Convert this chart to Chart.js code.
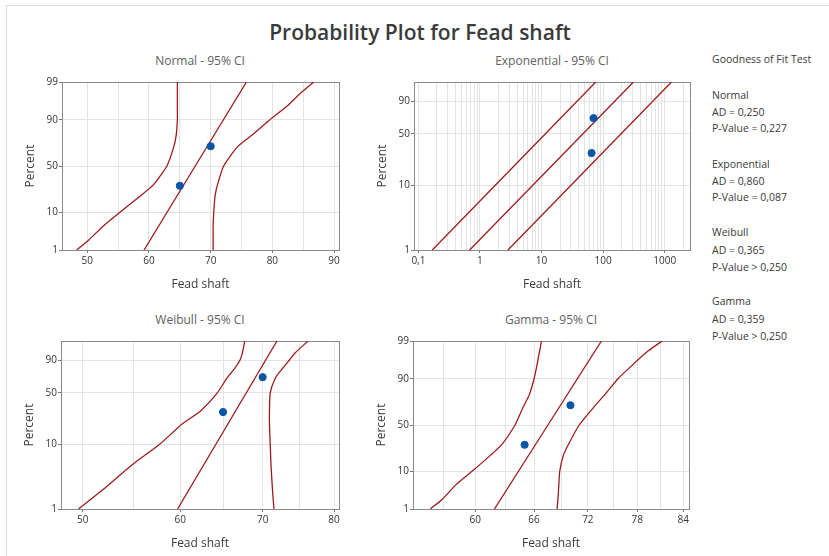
<!DOCTYPE html>
<html>
<head>
<meta charset="utf-8">
<script src="https://cdn.jsdelivr.net/npm/chart.js@4.4.0/dist/chart.umd.min.js"></script>
<style>
body { margin: 0; width: 829px; height: 556px; background: #fff; font-family: "Open Sans", sans-serif; position: relative; overflow: hidden; }
.frame { position: absolute; left: 6px; top: 5px; width: 830px; height: 560px; border-left: 1px solid #dcdcdc; border-top: 1px solid #dcdcdc; }
#title { position: absolute; left: 0; width: 840px; top: 18px; text-align: center; font-size: 21px; font-weight: 600; color: #3a3a3a; }
canvas { position: absolute; }
.ptitle { position: absolute; width: 280px; font-size: 12px; line-height: 16px; color: #606060; text-align: center; white-space: nowrap; }
.gof { position: absolute; left: 712px; font-size: 10.5px; line-height: 14px; color: #3a3a3a; white-space: nowrap; }
</style>
</head>
<body>
<div class="frame"></div>
<div id="title">Probability Plot for Fead shaft</div>
<div class="ptitle" style="left:60px;top:53px">Normal - 95% CI</div>
<div class="ptitle" style="left:412px;top:53px">Exponential - 95% CI</div>
<div class="ptitle" style="left:60px;top:312px">Weibull - 95% CI</div>
<div class="ptitle" style="left:411px;top:312px">Gamma - 95% CI</div>
<canvas id="normal" width="343" height="222" style="left:8px;top:72px"></canvas>
<canvas id="expo" width="342" height="222" style="left:360px;top:72px"></canvas>
<canvas id="weibull" width="344" height="222" style="left:7px;top:331px"></canvas>
<canvas id="gamma" width="342" height="222" style="left:359px;top:331px"></canvas>
<div id="gofBox"></div>
<script>
// observed data (median ranks)
const dataX = [65, 70];
const dataPct = [29.2, 70.8];

// Normal panel
const normalPct = [1, 2, 5, 10, 20, 30, 50, 70, 80, 90, 95, 98, 99];
const normalLower = [48.3, 50.2, 52.7, 55.3, 58.5, 60.7, 62.9, 64.0, 64.4, 64.6, 64.6, 64.6, 64.6];
const normalUpper = [70.4, 70.4, 70.4, 70.5, 70.7, 71.1, 72.1, 74.3, 76.6, 79.6, 82.3, 84.8, 86.7];
const normalFitPct = [1, 99];
const normalFit = [59.2, 75.8];

// Exponential panel
const expoPct = [1, 99];
const expoFit = [0.68, 311];
const expoLower = [0.168, 76];
const expoUpper = [2.85, 1290];

// Weibull panel
const weibullPct = [1, 2, 5, 10, 20, 30, 50, 70, 80, 90, 95, 99];
const weibullLower = [49.6, 51.9, 54.9, 57.7, 60.2, 62.3, 64.3, 65.5, 66.3, 67.1, 67.4, 67.7];
const weibullUpper = [71.5, 71.3, 71.1, 71.0, 70.9, 70.9, 71.0, 71.7, 72.5, 73.6, 74.4, 76.2];
const weibullFitPct = [1, 99];
const weibullFit = [59.7, 71.9];

// Gamma panel
const gammaPct = [1, 2, 5, 10, 20, 30, 50, 70, 80, 90, 95, 98, 99];
const gammaLower = [55.8, 56.9, 58.2, 59.7, 61.5, 62.7, 64.0, 64.9, 65.5, 66.0, 66.3, 66.6, 66.8];
const gammaUpper = [68.5, 68.6, 68.7, 68.8, 69.2, 69.8, 71.0, 72.8, 74.0, 75.6, 77.3, 79.4, 81.2];
const gammaFitPct = [1, 99];
const gammaFit = [61.9, 73.6];

// axis ticks
const normalXTicks = [50, 55, 60, 65, 70, 75, 80, 85, 90];
const normalXLabels = [50, 60, 70, 80, 90];
const expoXLabels = [0.1, 1, 10, 100, 1000];
const weibullXTicks = [50, 55, 60, 65, 70, 75, 80];
const weibullXLabels = [50, 60, 70, 80];
const gammaXTicks = [57, 60, 63, 66, 69, 72, 75, 78, 81, 84];
const gammaXLabels = [60, 66, 72, 78, 84];
const normYTicks = [1, 10, 50, 90, 99];
const sevYTicks = [1, 10, 50, 90];

const gofLines = [
    ['Goodness of Fit Test', 59],
    ['Normal', 95], ['AD = 0,250', 112], ['P-Value = 0,227', 128],
    ['Exponential', 164], ['AD = 0,860', 181], ['P-Value = 0,087', 197],
    ['Weibull', 232], ['AD = 0,365', 250], ['P-Value > 0,250', 267],
    ['Gamma', 301], ['AD = 0,359', 319], ['P-Value > 0,250', 336]
];
const gofBox = document.getElementById('gofBox');
gofLines.forEach(([t, y]) => {
    const d = document.createElement('div');
    d.className = 'gof';
    d.style.top = (y - 7) + 'px';
    d.textContent = t;
    gofBox.appendChild(d);
});

const lineColor = '#9e1b1b';
const dotColor = '#0b56a4';

// inverse normal CDF (Acklam)
function normInv(p) {
    const a = [-39.69683028665376, 220.9460984245205, -275.9285104469687, 138.357751867269, -30.66479806614716, 2.506628277459239];
    const b = [-54.47609879822406, 161.5858368580409, -155.6989798598866, 66.80131188771972, -13.28068155288572];
    const c = [-0.007784894002430293, -0.3223964580411365, -2.400758277161838, -2.549732539343734, 4.374664141464968, 2.938163982698783];
    const d = [0.007784695709041462, 0.3224671290700398, 2.445134137142996, 3.754408661907416];
    const pl = 0.02425;
    let q, r;
    if (p < pl) {
        q = Math.sqrt(-2 * Math.log(p));
        return (((((c[0] * q + c[1]) * q + c[2]) * q + c[3]) * q + c[4]) * q + c[5]) / ((((d[0] * q + d[1]) * q + d[2]) * q + d[3]) * q + 1);
    }
    if (p > 1 - pl) {
        q = Math.sqrt(-2 * Math.log(1 - p));
        return -(((((c[0] * q + c[1]) * q + c[2]) * q + c[3]) * q + c[4]) * q + c[5]) / ((((d[0] * q + d[1]) * q + d[2]) * q + d[3]) * q + 1);
    }
    q = p - 0.5; r = q * q;
    return (((((a[0] * r + a[1]) * r + a[2]) * r + a[3]) * r + a[4]) * r + a[5]) * q / (((((b[0] * r + b[1]) * r + b[2]) * r + b[3]) * r + b[4]) * r + 1);
}
const zq = p => normInv(p / 100);
const sev = p => Math.log(-Math.log(1 - p / 100));

const framePlugin = {
    id: 'frame',
    beforeDatasetsDraw(chart) {
        const { ctx, chartArea: a } = chart;
        ctx.save();
        ctx.strokeStyle = '#8a8a8a';
        ctx.lineWidth = 1;
        ctx.strokeRect(Math.round(a.left) + 0.5, Math.round(a.top) + 0.5, Math.round(a.right - a.left), Math.round(a.bottom - a.top));
        ctx.restore();
    }
};

function fmt(v) {
    return String(v).replace('.', ',');
}

function drawPanel(id, o) {
    const curve = (xs, ps) => ({
        data: xs.map((x, i) => ({ x: x, y: o.yf(ps[i]) })),
        showLine: true, borderColor: lineColor, borderWidth: 1.3,
        pointRadius: 0, tension: 0.2, order: 2
    });
    const datasets = o.curves.map(c => curve(c[0], c[1]));
    datasets.push({
        data: dataX.map((x, i) => ({ x: x, y: o.yf(dataPct[i]) })),
        pointRadius: 3.6, pointBackgroundColor: dotColor, pointBorderColor: dotColor,
        showLine: false, order: 1
    });
    const tickFont = { family: 'Open Sans', size: 10 };
    const titleFont = { family: 'Open Sans', size: 12 };
    new Chart(document.getElementById(id), {
        type: 'scatter',
        data: { datasets },
        options: {
            responsive: false,
            animation: false,
            layout: { padding: { left: 4, top: 10, right: 12, bottom: 0 } },
            plugins: { legend: { display: false }, tooltip: { enabled: false } },
            scales: {
                x: {
                    type: o.xType,
                    bounds: 'data',
                    min: o.xMin,
                    max: o.xMax,
                    afterBuildTicks: s => { s.ticks = o.xTicks.map(v => ({ value: v })); },
                    afterFit: s => { s.height = 44; s.paddingLeft = 0; s.paddingRight = 0; },
                    ticks: {
                        autoSkip: false, maxRotation: 0, padding: 2, color: '#333', font: tickFont,
                        callback: (v, i) => o.xLabels.includes(o.xTicks[i]) ? fmt(o.xTicks[i]) : ''
                    },
                    grid: {
                        color: '#e3e3e3', tickLength: 3,
                        tickColor: c => (c.tick && o.xLabels.includes(c.tick.value)) ? '#777' : 'rgba(0,0,0,0)'
                    },
                    border: { display: false },
                    title: { display: true, text: 'Fead shaft', color: '#3a3a3a', font: titleFont, padding: { top: 0, bottom: 2 } }
                },
                y: {
                    type: 'linear',
                    bounds: 'data',
                    min: o.yf(1),
                    max: o.yf(99),
                    afterBuildTicks: s => { s.ticks = o.yTicks.map(v => ({ value: o.yf(v) })); },
                    afterFit: s => { s.width = 50; s.paddingTop = 0; s.paddingBottom = 0; },
                    ticks: {
                        autoSkip: false, padding: 1, color: '#333', font: tickFont,
                        callback: (v, i) => String(o.yTicks[i])
                    },
                    grid: { color: '#e3e3e3', tickLength: 3, tickColor: '#777' },
                    border: { display: false },
                    title: { display: true, text: 'Percent', color: '#3a3a3a', font: titleFont, padding: { top: 11, bottom: 0 } }
                }
            }
        },
        plugins: [framePlugin]
    });
}

// log grid for exponential panel
const expoXTicks = [];
[0.1, 1, 10, 100, 1000].forEach(d => {
    for (let k = 1; k <= 9; k++) {
        const v = +(d * k).toPrecision(3);
        if (v <= 2500) expoXTicks.push(v);
    }
});

drawPanel('normal', {
    xType: 'linear', xMin: 45.9, xMax: 90.8, xTicks: normalXTicks, xLabels: normalXLabels,
    yf: zq, yTicks: normYTicks,
    curves: [[normalLower, normalPct], [normalFit, normalFitPct], [normalUpper, normalPct]]
});
drawPanel('expo', {
    xType: 'logarithmic', xMin: 0.0848, xMax: 2578, xTicks: expoXTicks, xLabels: expoXLabels,
    yf: sev, yTicks: sevYTicks,
    curves: [[expoLower, expoPct], [expoFit, expoPct], [expoUpper, expoPct]]
});
drawPanel('weibull', {
    xType: 'logarithmic', xMin: 48.0, xMax: 80.75, xTicks: weibullXTicks, xLabels: weibullXLabels,
    yf: sev, yTicks: sevYTicks,
    curves: [[weibullLower, weibullPct], [weibullFit, weibullFitPct], [weibullUpper, weibullPct]]
});
drawPanel('gamma', {
    xType: 'logarithmic', xMin: 54.26, xMax: 84.8, xTicks: gammaXTicks, xLabels: gammaXLabels,
    yf: zq, yTicks: normYTicks,
    curves: [[gammaLower, gammaPct], [gammaFit, gammaFitPct], [gammaUpper, gammaPct]]
});
</script>
</body>
</html>
